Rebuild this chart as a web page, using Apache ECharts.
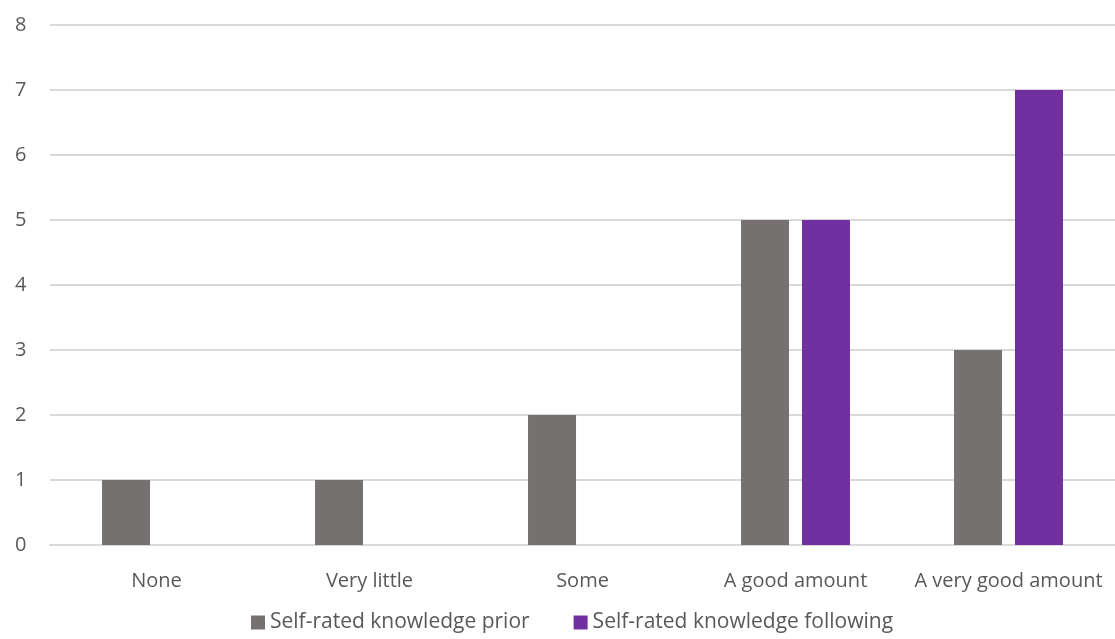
<!DOCTYPE html>
<html>
<head>
<meta charset="utf-8">
<script src="https://cdn.jsdelivr.net/npm/echarts@6/dist/echarts.min.js"></script>
<style>html,body{margin:0;padding:0;background:#fff}#c{width:1115px;height:639px}</style>
</head>
<body>
<div id="c"></div>
<script>
const categories = ["None", "Very little", "Some", "A good amount", "A very good amount"];
const priorValues = [1, 1, 2, 5, 3];
const followingValues = [null, null, null, 5, 7];
const seriesNames = ["Self-rated knowledge prior", "Self-rated knowledge following"];

const chart = echarts.init(document.getElementById('c'));
const font = "'Open Sans', sans-serif";
chart.setOption({
  animation: false,
  grid: { left: 50, right: 0, top: 25, bottom: 94 },
  legend: {
    bottom: 1,
    left: 246,
    itemWidth: 14, itemHeight: 14, itemGap: 44,
    icon: 'rect',
    textStyle: { color: '#595959', fontSize: 21, fontFamily: font },
    data: seriesNames
  },
  xAxis: {
    type: 'category',
    data: categories,
    axisLine: { lineStyle: { color: '#d9d9d9', width: 2 } },
    axisTick: { show: false },
    axisLabel: { color: '#595959', fontSize: 20, fontFamily: font, margin: 26, interval: 0 }
  },
  yAxis: {
    type: 'value',
    min: 0, max: 8, interval: 1,
    axisLine: { show: false },
    axisTick: { show: false },
    splitLine: { lineStyle: { color: '#d9d9d9', width: 2 } },
    axisLabel: { color: '#595959', fontSize: 20, fontFamily: font, margin: 35, align: 'left' }
  },
  series: [
    { name: seriesNames[0], type: 'bar', data: priorValues, barWidth: 48, barGap: '27%', itemStyle: { color: '#767171' } },
    { name: seriesNames[1], type: 'bar', data: followingValues, barWidth: 48, itemStyle: { color: '#7030A0' } }
  ]
});
</script>
</body>
</html>
